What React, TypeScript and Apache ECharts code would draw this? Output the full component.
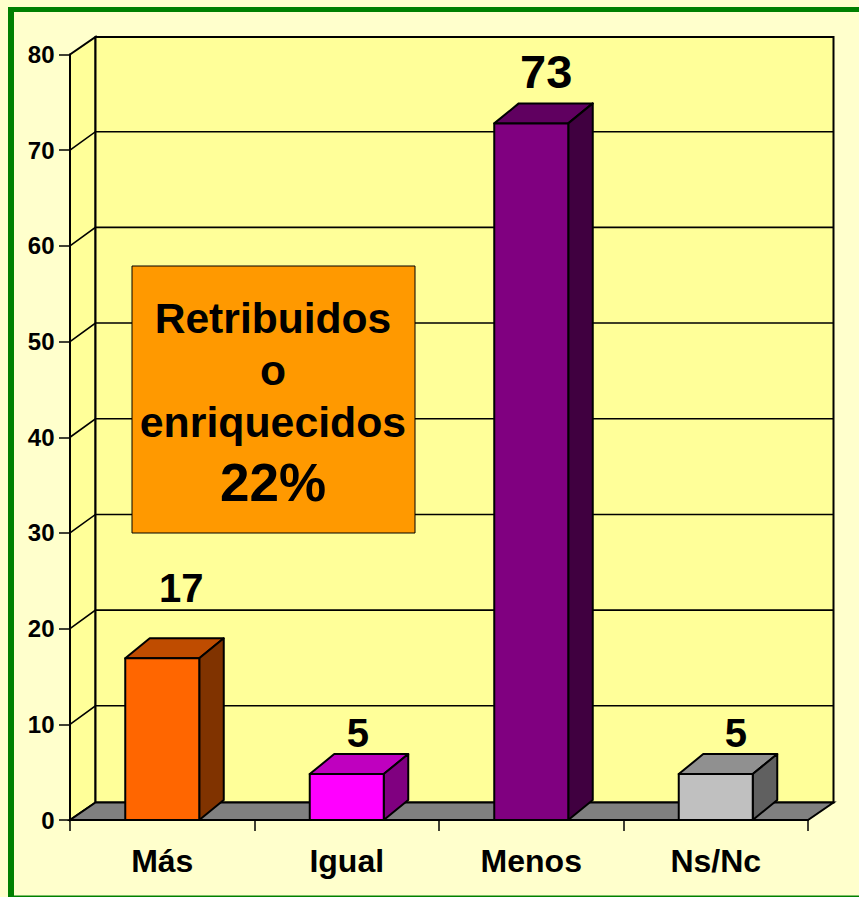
import React, { useEffect, useRef } from "react";
import * as echarts from "echarts";

const categories = ["Más", "Igual", "Menos", "Ns/Nc"];
const barHeights = [16.9, 4.8, 72.8, 4.8];
const barLabels = ["17", "5", "73", "5"];
const yTicks = [0, 10, 20, 30, 40, 50, 60, 70, 80];
const boxLines = ["Retribuidos", "o", "enriquecidos", "22%"];

const frontColors = ["#FF6600", "#FF00FF", "#800080", "#C0C0C0"];
const topColors = ["#BF4C00", "#BF00BF", "#600060", "#909090"];
const sideColors = ["#803300", "#800080", "#400040", "#606060"];
const labelSizes = [40, 40, 47, 40];
const labelShift = [[19, -50], [11, -21], [15, -32], [20, -21]];
const boxLineY = [318, 370, 422, 482];
const boxLineSize = [42.6, 42.6, 42.8, 53];

const FONT = '"Liberation Sans", Arial, sans-serif';
const WALL_DX = 25.5;
const WALL_DY = 17.5;
const GRID_DY = 18.5;
const BAR_W = 74;
const BAR_DX = 24.5;
const BAR_DY = 20;

export default function App() {
  const ref = useRef<HTMLDivElement>(null);
  useEffect(() => {
    document.body.style.margin = "0";
    const chart = echarts.init(ref.current!, undefined, { renderer: "svg" });
    const ink = { stroke: "#000", lineWidth: 2 };
    chart.setOption({
      animation: false,
      backgroundColor: "#FFFFCC",
      textStyle: { fontFamily: FONT },
      grid: { left: 70, right: 51, top: 54.5, bottom: 77 },
      xAxis: {
        type: "category",
        data: categories,
        z: 10,
        axisLine: { lineStyle: { color: "#000", width: 2 } },
        axisTick: { show: true, length: 11, lineStyle: { color: "#000", width: 1.5 } },
        axisLabel: { color: "#000", fontSize: 32, fontWeight: "bold", fontFamily: FONT, margin: 25 },
      },
      yAxis: {
        type: "value",
        min: 0,
        max: 80,
        interval: 10,
        z: 10,
        splitLine: { show: false },
        axisLine: { show: true, lineStyle: { color: "#000", width: 2 } },
        axisTick: { show: true, length: 11, lineStyle: { color: "#000", width: 1.5 } },
        axisLabel: { color: "#000", fontSize: 24, fontWeight: "bold", fontFamily: FONT, margin: 15.5 },
      },
      series: [
        {
          type: "custom",
          silent: true,
          z: 1,
          data: [0],
          renderItem: (params: any, api: any) => {
            const cs = params.coordSys;
            const y0 = api.coord([0, 0])[1];
            const y1 = api.coord([0, 80])[1];
            const xl = cs.x;
            const xr = cs.x + cs.width;
            return {
              type: "group",
              children: [
                {
                  type: "polygon",
                  shape: { points: [[xl, y0], [xl + WALL_DX, y0 - WALL_DY], [xl + WALL_DX, y1 - WALL_DY], [xl, y1]] },
                  style: { fill: "#FFFF99", ...ink },
                },
                {
                  type: "polygon",
                  shape: { points: [[xl + WALL_DX, y0 - WALL_DY], [xr + WALL_DX, y0 - WALL_DY], [xr + WALL_DX, y1 - WALL_DY], [xl + WALL_DX, y1 - WALL_DY]] },
                  style: { fill: "#FFFF99", ...ink },
                },
                {
                  type: "polygon",
                  shape: { points: [[xl, y0], [xr, y0], [xr + WALL_DX, y0 - WALL_DY], [xl + WALL_DX, y0 - WALL_DY]] },
                  style: { fill: "#808080", ...ink },
                },
              ],
            };
          },
        },
        {
          type: "custom",
          silent: true,
          z: 2,
          data: yTicks.slice(1, -1).map((v) => [0, v]),
          renderItem: (params: any, api: any) => {
            const cs = params.coordSys;
            const y = api.coord([0, api.value(1)])[1];
            return {
              type: "polyline",
              shape: { points: [[cs.x, y], [cs.x + WALL_DX, y - GRID_DY], [cs.x + cs.width + WALL_DX, y - GRID_DY]] },
              style: { fill: "none", stroke: "#000", lineWidth: 1.6 },
            };
          },
        },
        {
          type: "custom",
          silent: true,
          z: 3,
          data: barHeights.map((v, i) => [i, v]),
          renderItem: (_params: any, api: any) => {
            const i = api.value(0);
            const [cx, yTop] = api.coord([i, api.value(1)]);
            const yBase = api.coord([i, 0])[1];
            const l = cx - BAR_W / 2;
            const r = cx + BAR_W / 2;
            const edge = { stroke: "#000", lineWidth: 2, lineJoin: "round" };
            return {
              type: "group",
              children: [
                {
                  type: "polygon",
                  shape: { points: [[l, yTop], [r, yTop], [r + BAR_DX, yTop - BAR_DY], [l + BAR_DX, yTop - BAR_DY]] },
                  style: { fill: topColors[i], ...edge },
                },
                {
                  type: "polygon",
                  shape: { points: [[r, yTop], [r + BAR_DX, yTop - BAR_DY], [r + BAR_DX, yBase - BAR_DY], [r, yBase]] },
                  style: { fill: sideColors[i], ...edge },
                },
                {
                  type: "polygon",
                  shape: { points: [[l, yTop], [r, yTop], [r, yBase], [l, yBase]] },
                  style: { fill: frontColors[i], ...edge },
                },
                {
                  type: "text",
                  style: {
                    text: barLabels[i],
                    x: cx + labelShift[i][0],
                    y: yTop - BAR_DY + labelShift[i][1],
                    fill: "#000",
                    fontFamily: FONT,
                    fontWeight: "bold",
                    fontSize: labelSizes[i],
                    textAlign: "center",
                    textVerticalAlign: "middle",
                  },
                },
              ],
            };
          },
        },
      ],
      graphic: [
        { type: "rect", z: 100, shape: { x: 8, y: 7, width: 851, height: 5 }, style: { fill: "#008000" } },
        { type: "rect", z: 100, shape: { x: 8, y: 7, width: 6, height: 890 }, style: { fill: "#008000" } },
        { type: "rect", z: 100, shape: { x: 8, y: 895.5, width: 851, height: 1.5 }, style: { fill: "#008000" } },
        {
          type: "rect",
          z: 100,
          shape: { x: 132, y: 266, width: 283, height: 267 },
          style: { fill: "#FF9900", stroke: "#000", lineWidth: 1 },
        },
        ...boxLines.map((t, i) => ({
          type: "text",
          z: 101,
          style: {
            text: t,
            x: 273,
            y: boxLineY[i],
            fill: "#000",
            fontFamily: FONT,
            fontWeight: "bold",
            fontSize: boxLineSize[i],
            textAlign: "center",
            textVerticalAlign: "middle",
          },
        })),
      ],
    });
    return () => chart.dispose();
  }, []);
  return <div ref={ref} style={{ width: 859, height: 897 }} />;
}
